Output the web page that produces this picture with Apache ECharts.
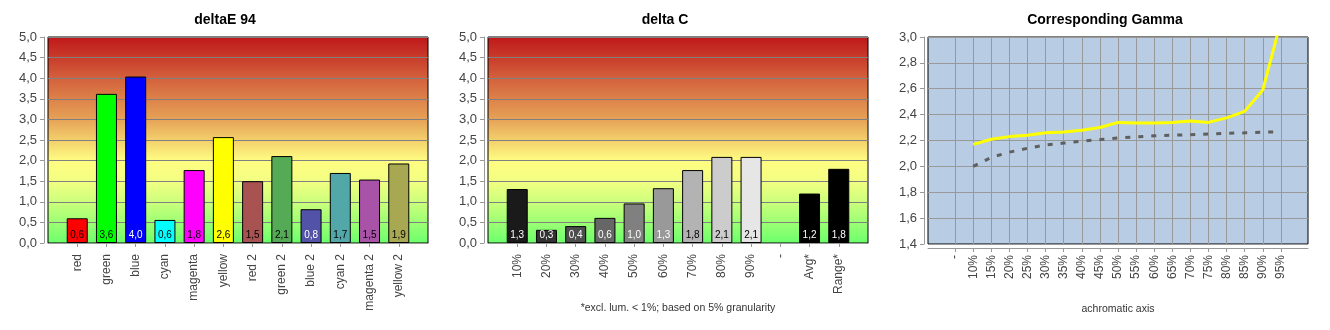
<!DOCTYPE html>
<html>
<head>
<meta charset="utf-8">
<script src="https://cdn.jsdelivr.net/npm/echarts@6/dist/echarts.min.js"></script>
<style>
html,body{margin:0;padding:0;background:#fff;}
#chart{width:1330px;height:330px;}
</style>
</head>
<body>
<div id="chart"></div>
<script>
// ---- data ----
const deCategories = ['red','green','blue','cyan','magenta','yellow','red 2','green 2','blue 2','cyan 2','magenta 2','yellow 2'];
const deValues = [0.6, 3.62, 4.04, 0.56, 1.77, 2.57, 1.5, 2.11, 0.82, 1.7, 1.54, 1.93];

const dcCategories = ['10%','20%','30%','40%','50%','60%','70%','80%','90%','-','Avg*','Range*'];
const dcValues = [1.31, 0.32, 0.41, 0.61, 0.96, 1.33, 1.77, 2.09, 2.09, null, 1.2, 1.8];

const gammaLabels = ['-','10%','15%','20%','25%','30%','35%','40%','45%','50%','55%','60%','65%','70%','75%','80%','85%','90%','95%'];
const gammaMeasured = [null, 2.17, 2.21, 2.23, 2.24, 2.26, 2.265, 2.28, 2.30, 2.34, 2.335, 2.335, 2.34, 2.35, 2.34, 2.375, 2.425, 2.59, 3.12];
const gammaReference = [null, 2.00, 2.07, 2.11, 2.14, 2.165, 2.18, 2.195, 2.207, 2.22, 2.228, 2.236, 2.241, 2.244, 2.25, 2.256, 2.259, 2.265, 2.267];

const deTicks = [0,5,0.5];
const gammaTicks = [1.4,3.0,0.2];

// ---- styles ----
const deColors = ['#ff0000','#00ff00','#0000ff','#00ffff','#ff00ff','#ffff00','#a85252','#55aa55','#5252a8','#52a8a8','#a852a8','#a8a852'];
const deLabelColors = ['#000','#000','#fff','#000','#000','#000','#000','#000','#fff','#000','#000','#000'];
const dcColors = ['#1a1a1a','#333333','#4d4d4d','#666666','#808080','#999999','#b3b3b3','#cccccc','#e6e6e6','#000','#000000','#000000'];
const dcLabelColors = ['#fff','#fff','#fff','#fff','#fff','#fff','#000','#000','#000','#fff','#fff','#fff'];

const FONT = 'Liberation Sans';
const fmt = v => v.toFixed(1).replace('.', ',');

const chart = echarts.init(document.getElementById('chart'));

const heatBg = new echarts.graphic.LinearGradient(0, 0, 0, 1, [
  {offset: 0, color: '#bf1719'},
  {offset: 0.2, color: '#d3603c'},
  {offset: 0.4, color: '#e6a257'},
  {offset: 0.5, color: '#f3cf6c'},
  {offset: 0.6, color: '#fffd82'},
  {offset: 0.7, color: '#f2ff82'},
  {offset: 0.8, color: '#ccff7c'},
  {offset: 0.9, color: '#9cff74'},
  {offset: 1, color: '#6cff6c'}
]);

function pad(arr, fill) { return [fill].concat(arr, [fill]); }

function barData(values, colors, labelColors) {
  return pad(values.map((v, i) => v == null ? '-' : {
    value: v,
    itemStyle: {color: colors[i]},
    label: {color: labelColors[i]}
  }), '-');
}

// gamma category axis at half steps
const gammaCats = [];
const gMeas = [], gRef = [];
for (let i = 0; i < 43; i++) { gammaCats.push(''); gMeas.push(null); gRef.push(null); }
gammaLabels.forEach((l, j) => {
  gammaCats[3 + 2 * j] = l;
  gMeas[3 + 2 * j] = gammaMeasured[j];
  gRef[3 + 2 * j] = gammaReference[j];
});

const realOnly = (idx, val) => val !== '';

function xAxisCommon(gridIndex, data, name) {
  return {
    type: 'category', gridIndex, data, boundaryGap: false, offset: 4,
    axisLine: {lineStyle: {color: '#999', width: 1}},
    axisTick: {interval: realOnly, length: 4, lineStyle: {color: '#999'}},
    axisLabel: {interval: realOnly, rotate: 90, margin: 7, color: '#444', fontFamily: FONT, fontSize: 12},
    splitLine: {show: false},
    name: name || '', nameLocation: 'middle', nameGap: 56,
    nameTextStyle: {color: '#333', fontFamily: FONT, fontSize: 10.5}
  };
}
function yAxisCommon(gridIndex, t, splitColor) {
  return {
    type: 'value', gridIndex, min: t[0], max: t[1], interval: t[2], offset: 4,
    axisLine: {show: true, lineStyle: {color: '#999'}},
    axisTick: {show: true, length: 4, lineStyle: {color: '#999'}},
    axisLabel: {formatter: fmt, margin: 7, color: '#444', fontFamily: FONT, fontSize: 13},
    splitLine: {show: true, lineStyle: {color: splitColor, width: 1}}
  };
}

const barLabel = {show: true, position: 'insideBottom', distance: 3, formatter: p => fmt(p.value), fontFamily: FONT, fontSize: 10};

const gammaX = xAxisCommon(2, gammaCats, 'achromatic axis');
gammaX.splitLine = {show: true, interval: realOnly, lineStyle: {color: '#999', width: 1}};

chart.setOption({
  animation: false,
  title: [
    {text: 'deltaE 94', left: 225, top: 13, textAlign: 'center', padding: 0, textStyle: {fontFamily: FONT, fontSize: 14, fontWeight: 'bold', color: '#000'}},
    {text: 'delta C', left: 665, top: 13, textAlign: 'center', padding: 0, textStyle: {fontFamily: FONT, fontSize: 14, fontWeight: 'bold', color: '#000'}},
    {text: 'Corresponding Gamma', left: 1105, top: 13, textAlign: 'center', padding: 0, textStyle: {fontFamily: FONT, fontSize: 14, fontWeight: 'bold', color: '#000'}}
  ],
  grid: [
    {left: 48, top: 37, width: 380, height: 206, show: true, backgroundColor: heatBg, borderColor: '#000', borderWidth: 1, containLabel: false},
    {left: 488, top: 37, width: 380, height: 206, show: true, backgroundColor: heatBg, borderColor: '#000', borderWidth: 1, containLabel: false},
    {left: 928, top: 37, width: 380, height: 207, show: true, backgroundColor: '#b8cce4', borderColor: '#000', borderWidth: 1, containLabel: false}
  ],
  xAxis: [
    xAxisCommon(0, pad(deCategories, '')),
    xAxisCommon(1, pad(dcCategories, ''), '*excl. lum. < 1%; based on 5% granularity'),
    gammaX
  ],
  yAxis: [
    yAxisCommon(0, deTicks, '#808080'),
    yAxisCommon(1, deTicks, '#808080'),
    yAxisCommon(2, gammaTicks, '#999')
  ],
  series: [
    {type: 'bar', xAxisIndex: 0, yAxisIndex: 0, barWidth: 21, data: barData(deValues, deColors, deLabelColors),
     itemStyle: {borderColor: '#000', borderWidth: 1}, label: barLabel},
    {type: 'bar', xAxisIndex: 1, yAxisIndex: 1, barWidth: 21, data: barData(dcValues, dcColors, dcLabelColors),
     itemStyle: {borderColor: '#000', borderWidth: 1}, label: barLabel},
    {type: 'line', xAxisIndex: 2, yAxisIndex: 2, data: gRef, connectNulls: true, showSymbol: false, symbol: 'none',
     lineStyle: {color: '#5f5f5f', width: 3, type: [5, 8]}, z: 3},
    {type: 'line', xAxisIndex: 2, yAxisIndex: 2, data: gMeas, connectNulls: true, showSymbol: false, symbol: 'none',
     lineStyle: {color: '#ffff00', width: 3}, z: 4}
  ]
});
</script>
</body>
</html>
